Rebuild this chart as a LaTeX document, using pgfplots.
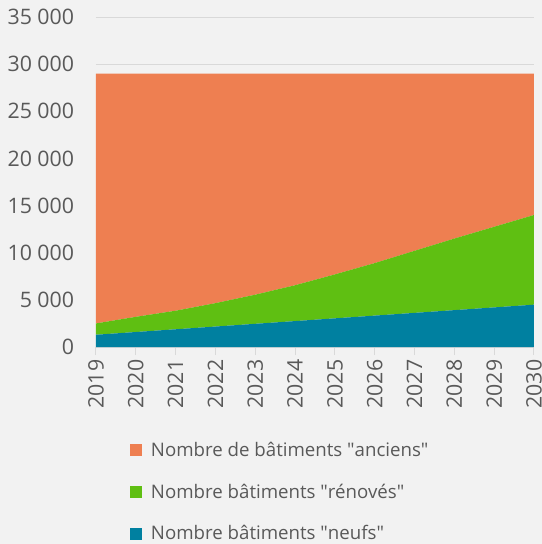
\documentclass[border=0pt]{standalone}
\usepackage{pgfplots}
\pgfplotsset{compat=1.18}
\usepackage{fontspec}
\setmainfont{Open Sans}
\definecolor{bg}{HTML}{F2F2F2}
\definecolor{txt}{HTML}{595959}
\definecolor{gridc}{HTML}{D9D9D9}
\definecolor{corange}{HTML}{EE7F51}
\definecolor{cgreen}{HTML}{5FBF12}
\definecolor{cblue}{HTML}{0080A0}
\begin{document}
\begin{tikzpicture}[x=1pt,y=1pt]
\fill[bg] (0,0) rectangle (406.5,408);
\path[use as bounding box] (0,0) rectangle (406.5,408);
\begin{axis}[
  at={(72pt,147.75pt)}, anchor=south west,
  scale only axis, width=328.5pt, height=247.5pt,
  xmin=2019, xmax=2030, ymin=0, ymax=35000,
  stack plots=y,
  axis x line*=bottom,
  x axis line style={draw=gridc, line width=0.75pt},
  y axis line style={draw=none},
  xtick={2019,...,2030}, ytick={0,5000,...,35000},
  ymajorgrids, major grid style={draw=gridc, line width=0.75pt},
  tick align=outside, major tick length=6pt,
  xtick style={draw=gridc, line width=0.75pt},
  ytick style={draw=none},
  scaled y ticks=false,
  /pgf/number format/assume math mode=true,
  yticklabel style={/pgf/number format/fixed, /pgf/number format/precision=0, /pgf/number format/1000 sep={\hspace{4pt}}, xshift=-7pt},
  xticklabel style={rotate=90, anchor=east, /pgf/number format/1000 sep={}},
  ticklabel style={font=\fontsize{16}{19}\selectfont, text=txt},
  legend style={at={(axis description cs:0.077,-0.28)}, anchor=north west,
    draw=none, fill=none, font=\fontsize{14}{17}\selectfont, text=txt,
    row sep=15pt, inner sep=0pt, cells={anchor=west}},
  legend image code/.code={\fill[#1] (0pt,-4.5pt) rectangle (9pt,4.5pt);},
  reverse legend,
]
\addplot[fill=cblue, draw=none] coordinates {
(2019,1300) (2020,1590) (2021,1880) (2022,2170) (2023,2460) (2024,2750)
(2025,3040) (2026,3330) (2027,3620) (2028,3910) (2029,4200) (2030,4490)} \closedcycle;
\addlegendentry{\hspace{4.75pt}Nombre bâtiments \textquotedbl neufs\textquotedbl}
\addplot[fill=cgreen, draw=none] coordinates {
(2019,1200) (2020,1610) (2021,1970) (2022,2480) (2023,3090) (2024,3800)
(2025,4660) (2026,5570) (2027,6580) (2028,7590) (2029,8550) (2030,9510)} \closedcycle;
\addlegendentry{\hspace{4.75pt}Nombre bâtiments \textquotedbl rénovés\textquotedbl}
\addplot[fill=corange, draw=none] coordinates {
(2019,26500) (2020,25800) (2021,25150) (2022,24350) (2023,23450) (2024,22450)
(2025,21300) (2026,20100) (2027,18800) (2028,17500) (2029,16250) (2030,15000)} \closedcycle;
\addlegendentry{\hspace{4.75pt}Nombre de bâtiments \textquotedbl anciens\textquotedbl}
\end{axis}
\end{tikzpicture}
\end{document}
